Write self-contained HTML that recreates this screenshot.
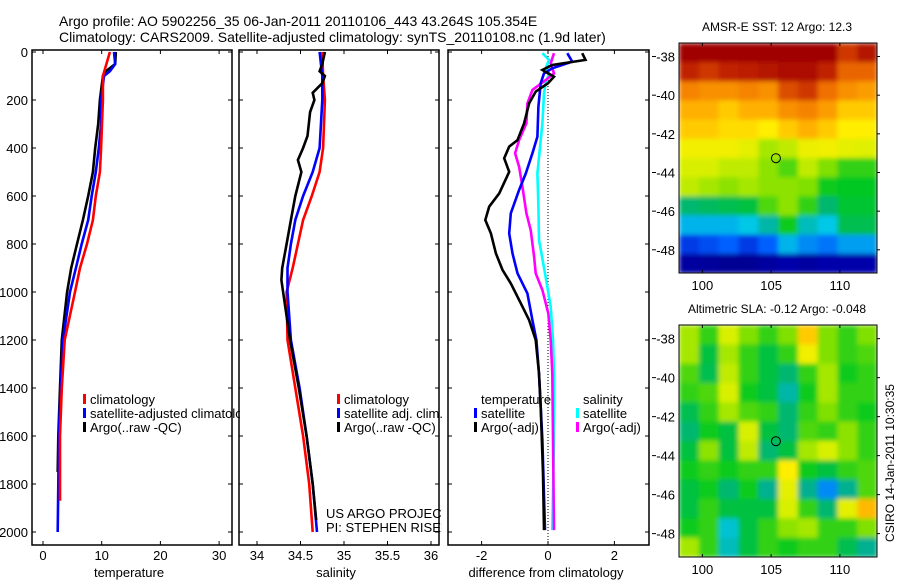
<!DOCTYPE html>
<html><head><meta charset="utf-8"><style>
html,body{margin:0;padding:0;background:#fff;}
svg{display:block;font-family:"Liberation Sans",sans-serif;}
text{font-family:"Liberation Sans",sans-serif;fill:#000;}
</style></head><body>
<svg id="fig" width="900" height="580" viewBox="0 0 900 580" xmlns="http://www.w3.org/2000/svg">
<defs>
<filter id="bl" x="0" y="0" width="1" height="1"><feGaussianBlur stdDeviation="2.5" edgeMode="duplicate"/></filter>
<clipPath id="c1"><rect x="679" y="43" width="198" height="230"/></clipPath>
<clipPath id="c2"><rect x="679" y="325" width="198" height="232"/></clipPath>
<clipPath id="cp1"><rect x="32" y="50" width="200" height="495"/></clipPath>
<clipPath id="cp2"><rect x="239" y="50" width="200" height="495"/></clipPath>
<clipPath id="cp3"><rect x="448" y="50" width="201" height="495"/></clipPath>
<clipPath id="lg1"><rect x="32" y="50" width="208" height="495"/></clipPath>
<clipPath id="lg2"><rect x="239" y="50" width="203" height="495"/></clipPath>
</defs>
<text x="59" y="26" font-size="14">Argo profile: AO 5902256_35 06-Jan-2011 20110106_443 43.264S 105.354E</text>
<text x="59" y="42" font-size="14">Climatology: CARS2009. Satellite-adjusted climatology: synTS_20110108.nc (1.9d later)</text>
<g id="axes"></g>
<g id="marks"></g>
<g id="maps"></g>
</svg>
<script>
// ---- depth axis data ----
const depthTicks = [0,200,400,600,800,1000,1200,1400,1600,1800,2000];
// temperature panel
const tempTicks = [0,10,20,30];
const tClimDepth = [0,100,200,400,500,600,700,800,900,1000,1200,1400,1600,1800,1870];
const tClimVal   = [11.4,10.2,10.2,9.9,9.7,9.0,8.5,7.5,6.3,5.45,3.7,3.2,2.9,2.9,2.9];
const tSatDepth  = [0,50,80,100,200,300,400,500,600,700,800,900,1000,1200,1400,1600,1800,2000];
const tSatVal    = [12.1,12.3,11.4,10.4,9.9,9.9,9.5,9.0,8.3,7.7,6.6,5.6,4.6,3.4,3.0,2.7,2.6,2.5];
const tArgoDepth = [0,50,80,100,200,300,400,500,600,700,800,900,1000,1200,1400,1600,1750];
const tArgoVal   = [12.4,12.3,10.7,10.2,9.7,9.4,8.9,8.5,7.7,6.8,5.8,4.8,4.1,3.2,2.9,2.6,2.5];
// salinity panel
const salTicks = [34,34.5,35,35.5,36];
const sClimDepth = [0,100,200,400,500,600,700,800,900,1000,1200,1400,1600,1800,2000];
const sClimVal   = [34.75,34.76,34.78,34.76,34.72,34.63,34.53,34.47,34.41,34.34,34.35,34.44,34.53,34.60,34.64];
const sSatDepth  = [0,100,200,400,500,600,700,800,900,1000,1200,1400,1600,1800,2000];
const sSatVal    = [34.72,34.75,34.75,34.72,34.64,34.53,34.44,34.39,34.35,34.35,34.39,34.49,34.57,34.64,34.69];
const sArgoDepth = [0,50,80,100,130,170,200,250,350,400,450,500,600,700,800,900,950,1000,1200,1400,1600,1800,1950];
const sArgoVal   = [34.78,34.75,34.72,34.78,34.75,34.64,34.66,34.61,34.58,34.53,34.47,34.51,34.44,34.39,34.34,34.29,34.28,34.30,34.38,34.48,34.57,34.64,34.68];
// difference panel
const diffTicks = [-2,0,2];
const dTSatDepth = [5,40,68,89,130,228,353,422,506,575,672,756,839,922,1006,1117,1200,1339,1617,1992];
const dTSatVal   = [0.58,0.73,0.13,-0.12,-0.22,-0.29,-0.32,-0.47,-0.67,-0.87,-1.12,-1.17,-1.07,-0.92,-0.62,-0.47,-0.35,-0.27,-0.17,-0.09];
const dTArgoDepth = [5,33,54,75,103,130,165,214,297,367,394,443,499,589,644,700,756,839,908,964,1047,1117,1200,1339,1478,1756,1992];
const dTArgoVal   = [1.03,1.13,0.13,-0.17,0.18,0,-0.37,-0.57,-0.72,-0.92,-1.17,-1.32,-1.17,-1.47,-1.77,-1.89,-1.72,-1.57,-1.37,-1.12,-0.82,-0.57,-0.37,-0.27,-0.22,-0.15,-0.12];
const dSSatDepth = [5,33,61,89,130,172,297,506,644,783,922,1061,1200,1339,1617,1992];
const dSSatVal   = [-0.17,0.03,-0.05,0.03,-0.07,-0.12,-0.17,-0.32,-0.29,-0.27,-0.09,0.08,0.15,0.18,0.18,0.13];
const dSArgoDepth = [5,47,89,117,158,214,297,367,422,478,561,672,742,853,922,992,1089,1200,1339,1992];
const dSArgoVal   = [0.18,0.08,0.18,-0.07,-0.47,-0.62,-0.65,-0.87,-0.99,-0.87,-0.77,-0.65,-0.52,-0.42,-0.37,-0.17,0.01,0.08,0.13,0.18];
// maps
const lonTicks = [100,105,110];
const latTicks = [-38,-40,-42,-44,-46,-48];
const sstGrid = [
[1,1,1,1,1,1,1,1,0.9,0.95],
[0.92,0.9,0.92,0.93,0.95,0.97,0.97,0.92,0.86,0.86],
[0.82,0.8,0.8,0.82,0.8,0.88,0.9,0.85,0.8,0.78],
[0.75,0.75,0.72,0.75,0.75,0.8,0.82,0.78,0.72,0.72],
[0.72,0.72,0.7,0.7,0.68,0.72,0.75,0.72,0.68,0.68],
[0.66,0.66,0.66,0.64,0.58,0.6,0.65,0.66,0.64,0.63],
[0.62,0.62,0.6,0.6,0.56,0.52,0.6,0.55,0.5,0.5],
[0.6,0.58,0.56,0.58,0.56,0.56,0.55,0.48,0.47,0.47],
[0.42,0.43,0.44,0.45,0.52,0.56,0.5,0.42,0.46,0.46],
[0.3,0.3,0.3,0.32,0.38,0.48,0.36,0.32,0.44,0.44],
[0.18,0.2,0.22,0.18,0.22,0.3,0.26,0.24,0.28,0.28],
[0.06,0.05,0.04,0.04,0.06,0.08,0.06,0.08,0.08,0.08]];
const slaGrid = [
[0.58,0.5,0.62,0.55,0.5,0.55,0.72,0.55,0.5,0.55],
[0.58,0.45,0.58,0.5,0.45,0.5,0.66,0.55,0.5,0.52],
[0.52,0.44,0.6,0.5,0.45,0.42,0.5,0.58,0.48,0.5],
[0.5,0.52,0.62,0.48,0.45,0.38,0.48,0.58,0.5,0.5],
[0.44,0.5,0.58,0.52,0.5,0.42,0.5,0.55,0.5,0.48],
[0.42,0.48,0.45,0.62,0.45,0.42,0.52,0.5,0.56,0.5],
[0.45,0.56,0.45,0.6,0.42,0.45,0.58,0.62,0.56,0.5],
[0.48,0.5,0.48,0.5,0.5,0.68,0.48,0.45,0.5,0.52],
[0.45,0.48,0.42,0.48,0.4,0.64,0.4,0.26,0.4,0.52],
[0.45,0.5,0.45,0.45,0.45,0.62,0.5,0.42,0.64,0.74],
[0.48,0.5,0.34,0.45,0.5,0.56,0.58,0.5,0.5,0.55],
[0.58,0.5,0.36,0.45,0.5,0.48,0.5,0.5,0.44,0.4]];
const floatLon = [105.35];
const floatLat = [-43.26];

const NS='http://www.w3.org/2000/svg';
const axesG=document.getElementById('axes'), marksG=document.getElementById('marks'), mapsG=document.getElementById('maps');
function mk(tag,attrs,parent){const e=document.createElementNS(NS,tag);for(const k in attrs)e.setAttribute(k,attrs[k]);parent.appendChild(e);return e;}
const yD = d => 52 + d*0.24;
const xT = t => 43 + t*5.87;
const xS = s => 257 + (s-34)*87;
const xDf = v => 548 + v*33.2;

function panel(x0,x1,name,ticks,xf,tickLabels,label,labelX,showY){
  const r=mk('rect',{x:x0,y:50,width:x1-x0,height:495,fill:'none',stroke:'#000','stroke-width':1.5},axesG);
  
  
  ticks.forEach((t,i)=>{
    const x=xf(t);
    mk('line',{x1:x,y1:50,x2:x,y2:54,stroke:'#000'},axesG);
    mk('line',{x1:x,y1:545,x2:x,y2:541,stroke:'#000'},axesG);
    const tx=mk('text',{x:x,y:560,'font-size':13,'text-anchor':'middle'},axesG);
    tx.textContent=tickLabels[i];
    
    
  });
  depthTicks.forEach(d=>{
    mk('line',{x1:x0,y1:yD(d),x2:x0+4,y2:yD(d),stroke:'#000'},axesG);
    mk('line',{x1:x1,y1:yD(d),x2:x1-4,y2:yD(d),stroke:'#000'},axesG);
    if(showY){
      const tx=mk('text',{x:28,y:yD(d)+5,'font-size':13,'text-anchor':'end'},axesG);
      tx.textContent=d;
      
      
    }
  });
  const lb=mk('text',{x:labelX,y:577,'font-size':13,'text-anchor':'middle'},axesG);
  lb.textContent=label;
  
  
}
panel(32,232,'temperature-panel',tempTicks,xT,tempTicks.map(String),'temperature',129,true);
panel(239,439,'salinity-panel',salTicks,xS,salTicks.map(String),'salinity',336,false);
panel(448,649,'difference-panel',diffTicks,xDf,diffTicks.map(String),'difference from climatology',546,false);
const zl=mk('line',{x1:xDf(0),y1:50,x2:xDf(0),y2:545,stroke:'#000','stroke-dasharray':'1,2'},axesG);



function series(depths,vals,xf,color,clip,name){
  const pts=depths.map((d,i)=>xf(vals[i]).toFixed(1)+','+yD(d).toFixed(1)).join(' ');
  const p=mk('polyline',{points:pts,fill:'none',stroke:color,'stroke-width':2.6,'clip-path':'url(#'+clip+')'},marksG);
  
  
}
series(tArgoDepth,tArgoVal,xT,'#000','cp1','temperature-argo-line');
series(tSatDepth,tSatVal,xT,'#0000ff','cp1','temperature-satellite-line');
series(tClimDepth,tClimVal,xT,'#ff0000','cp1','temperature-climatology-line');
series(sClimDepth,sClimVal,xS,'#ff0000','cp2','salinity-climatology-line');
series(sSatDepth,sSatVal,xS,'#0000ff','cp2','salinity-satellite-line');
series(sArgoDepth,sArgoVal,xS,'#000','cp2','salinity-argo-line');
series(dSSatDepth,dSSatVal,xDf,'#00ffff','cp3','salinity-satellite-diff-line');
series(dSArgoDepth,dSArgoVal,xDf,'#ff00ff','cp3','salinity-argo-diff-line');
series(dTSatDepth,dTSatVal,xDf,'#0000ff','cp3','temperature-satellite-diff-line');
series(dTArgoDepth,dTArgoVal,xDf,'#000','cp3','temperature-argo-diff-line');

function legend(x,y,color,txt,name,clip){
  const g=mk('g',clip?{'clip-path':'url(#'+clip+')'}:{},axesG);
  
  
  if(color) mk('rect',{x:x-7,y:y-10,width:3,height:10,fill:color},g);
  const t=mk('text',{x:x,y:y,'font-size':13},g);
  t.textContent=txt;
}
legend(90,404,'#ff0000','climatology','legend-climatology','lg1');
legend(90,418,'#0000ff','satellite-adjusted climatology','legend-satellite-adjusted','lg1');
legend(90,432,'#000','Argo(..raw -QC)','legend-argo','lg1');
legend(344,404,'#ff0000','climatology','legend-sal-climatology','lg2');
legend(344,418,'#0000ff','satellite adj. clim.','legend-sal-satellite','lg2');
legend(344,432,'#000','Argo(..raw -QC)','legend-sal-argo','lg2');
legend(326,518,null,'US ARGO PROJECT','project-credit','lg2');
legend(326,532,null,'PI: STEPHEN RISER','pi-credit','lg2');
legend(481,404,null,'temperature','legend-temperature-header','cp3');
legend(481,418,'#0000ff','satellite','legend-temp-satellite','cp3');
legend(481,432,'#000','Argo(-adj)','legend-temp-argo','cp3');
legend(583,404,null,'salinity','legend-salinity-header','cp3');
legend(583,418,'#00ffff','satellite','legend-sal-sat-diff','cp3');
legend(583,432,'#ff00ff','Argo(-adj)','legend-sal-argo-diff','cp3');

// ---- maps ----
const cmapStops=[[0,0,0,128],[0.12,0,0,192],[0.22,0,96,255],[0.32,0,200,230],[0.4,0,176,144],[0.47,0,200,32],[0.55,128,224,0],[0.62,216,240,0],[0.68,255,238,0],[0.75,255,176,0],[0.85,240,112,0],[0.92,192,32,0],[1,160,0,0]];
function cmap(v){
  v=Math.max(0,Math.min(1,v));
  for(let i=1;i<cmapStops.length;i++){
    const a=cmapStops[i-1],b=cmapStops[i];
    if(v<=b[0]){const f=(v-a[0])/(b[0]-a[0]);
      return 'rgb('+[1,2,3].map(k=>Math.round(a[k]+(b[k]-a[k])*f)).join(',')+')';}
  }
  return 'rgb(160,0,0)';
}
const lon0=98.3, lon1=112.7, lat0=-37.3, lat1=-49.2;
function mapPlot(top,grid,clip,name,title){
  const left=679,w=198,h=(clip==='c1'?230:232);
  const xL=lon=>left+(lon-lon0)/(lon1-lon0)*w;
  const yL=lat=>top+(lat-lat0)/(lat1-lat0)*h;
  const rows=grid.length, cols=grid[0].length;
  const cg=mk('g',{'clip-path':'url(#'+clip+')'},mapsG);
  const g=mk('g',{filter:'url(#bl)'},cg);
  
  
  grid.forEach((row,i)=>row.forEach((v,j)=>{
    const c=mk('rect',{x:left+j*w/cols,y:top+i*h/rows,width:w/cols+0.6,height:h/rows+0.6,fill:cmap(v)},g);
    
    
  }));
  const fr=mk('rect',{x:left,y:top,width:w,height:h,fill:'none',stroke:'#000','stroke-width':1},mapsG);
  
  
  const c=mk('circle',{cx:xL(floatLon[0]),cy:yL(floatLat[0]),r:4.5,fill:'none',stroke:'#000','stroke-width':1},mapsG);
  
  
  lonTicks.forEach(l=>{
    mk('line',{x1:xL(l),y1:top,x2:xL(l),y2:top+3,stroke:'#000'},mapsG);
    mk('line',{x1:xL(l),y1:top+h,x2:xL(l),y2:top+h-3,stroke:'#000'},mapsG);
    const t=mk('text',{x:xL(l),y:top+h+17,'font-size':13,'text-anchor':'middle'},mapsG);
    t.textContent=l;
    
    
  });
  latTicks.forEach(l=>{
    mk('line',{x1:652,y1:yL(l),x2:656,y2:yL(l),stroke:'#000'},mapsG);
    mk('line',{x1:left+w,y1:yL(l),x2:left+w+3,y2:yL(l),stroke:'#000'},mapsG);
    const t=mk('text',{x:675,y:yL(l)+5,'font-size':13,'text-anchor':'end'},mapsG);
    t.textContent=l;
    
    
  });
  const tt=mk('text',{x:777,y:top-12,'font-size':12,'text-anchor':'middle'},mapsG);
  tt.textContent=title;
  
  
}
mapPlot(43,sstGrid,'c1','sst-map','AMSR-E SST: 12 Argo: 12.3');
mapPlot(325,slaGrid,'c2','sla-map','Altimetric SLA: -0.12 Argo: -0.048');
const vt=mk('text',{x:0,y:0,'font-size':12,'text-anchor':'middle',transform:'translate(894,463) rotate(-90)'},mapsG);
vt.textContent='CSIRO 14-Jan-2011 10:30:35';


</script>
</body></html>
